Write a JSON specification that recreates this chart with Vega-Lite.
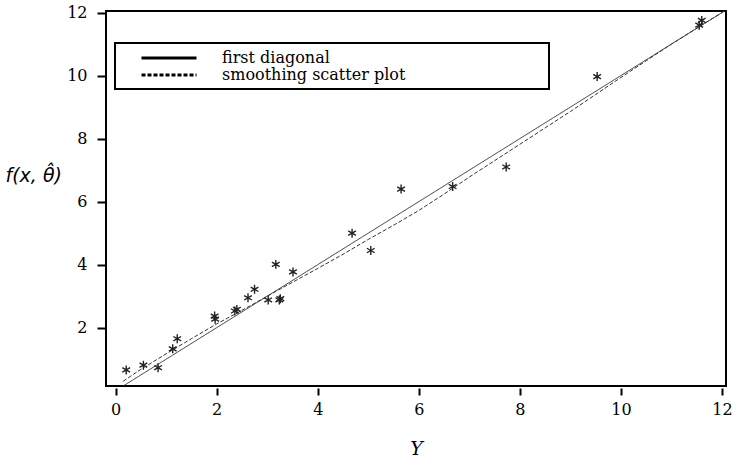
{
  "$schema": "https://vega.github.io/schema/vega-lite/v6.json",
  "width": 620,
  "height": 375,
  "autosize": "none",
  "padding": {"left": 106, "top": 11, "right": 7, "bottom": 74},
  "background": "white",
  "config": {
    "view": {"stroke": "black", "strokeWidth": 2},
    "font": "DejaVu Serif",
    "axis": {
      "labelFont": "DejaVu Serif",
      "labelFontSize": 16,
      "labelColor": "black",
      "tickColor": "black",
      "tickWidth": 2,
      "domain": false,
      "grid": false,
      "titleFont": "DejaVu Serif",
      "titleFontStyle": "italic",
      "titleFontWeight": "normal",
      "titleFontSize": 19,
      "titleColor": "black"
    }
  },
  "datasets": {
    "curves": [
      {"x": 0, "y": 0, "series": "first diagonal"},
      {"x": 12.1, "y": 12.1, "series": "first diagonal"},
      {"x": 0.15, "y": 0.3, "series": "smoothing scatter plot"},
      {"x": 0.5, "y": 0.68, "series": "smoothing scatter plot"},
      {"x": 1, "y": 1.17, "series": "smoothing scatter plot"},
      {"x": 1.5, "y": 1.65, "series": "smoothing scatter plot"},
      {"x": 2, "y": 2.12, "series": "smoothing scatter plot"},
      {"x": 2.5, "y": 2.55, "series": "smoothing scatter plot"},
      {"x": 3, "y": 3.0, "series": "smoothing scatter plot"},
      {"x": 3.5, "y": 3.44, "series": "smoothing scatter plot"},
      {"x": 4, "y": 3.88, "series": "smoothing scatter plot"},
      {"x": 4.5, "y": 4.33, "series": "smoothing scatter plot"},
      {"x": 5, "y": 4.8, "series": "smoothing scatter plot"},
      {"x": 5.5, "y": 5.25, "series": "smoothing scatter plot"},
      {"x": 6, "y": 5.72, "series": "smoothing scatter plot"},
      {"x": 6.5, "y": 6.24, "series": "smoothing scatter plot"},
      {"x": 7, "y": 6.78, "series": "smoothing scatter plot"},
      {"x": 7.5, "y": 7.3, "series": "smoothing scatter plot"},
      {"x": 8, "y": 7.82, "series": "smoothing scatter plot"},
      {"x": 8.5, "y": 8.34, "series": "smoothing scatter plot"},
      {"x": 9, "y": 8.86, "series": "smoothing scatter plot"},
      {"x": 9.5, "y": 9.4, "series": "smoothing scatter plot"},
      {"x": 10, "y": 9.94, "series": "smoothing scatter plot"},
      {"x": 10.5, "y": 10.47, "series": "smoothing scatter plot"},
      {"x": 11, "y": 11.0, "series": "smoothing scatter plot"},
      {"x": 11.6, "y": 11.6, "series": "smoothing scatter plot"},
      {"x": 12.1, "y": 12.1, "series": "smoothing scatter plot"}
    ],
    "obs": [
      {"x": 0.21, "y": 0.66}, {"x": 0.55, "y": 0.81}, {"x": 0.84, "y": 0.73},
      {"x": 1.13, "y": 1.33}, {"x": 1.22, "y": 1.65}, {"x": 1.96, "y": 2.37},
      {"x": 1.97, "y": 2.27}, {"x": 2.36, "y": 2.53}, {"x": 2.4, "y": 2.58},
      {"x": 2.62, "y": 2.95}, {"x": 2.75, "y": 3.22}, {"x": 3.02, "y": 2.88},
      {"x": 3.17, "y": 4.01}, {"x": 3.24, "y": 2.88}, {"x": 3.26, "y": 2.92},
      {"x": 3.51, "y": 3.77}, {"x": 4.68, "y": 5.0}, {"x": 5.05, "y": 4.45},
      {"x": 5.65, "y": 6.4}, {"x": 6.67, "y": 6.48}, {"x": 7.73, "y": 7.1},
      {"x": 9.53, "y": 9.97}, {"x": 11.55, "y": 11.6}, {"x": 11.6, "y": 11.75}
    ]
  },
  "encoding": {
    "x": {
      "field": "x", "type": "quantitative",
      "scale": {"domain": [-0.19, 12.08], "nice": false, "zero": false},
      "axis": {"values": [0, 2, 4, 6, 8, 10, 12], "title": "Y", "offset": 2, "tickSize": 7, "labelPadding": 6, "titlePadding": 22}
    },
    "y": {
      "field": "y", "type": "quantitative",
      "scale": {"domain": [0.15, 12.05], "nice": false, "zero": false},
      "axis": {"values": [2, 4, 6, 8, 10, 12], "title": "f(x, \u03b8\u0302)", "tickSize": 9, "labelPadding": 10,
        "titleFont": "DejaVu Sans", "titleAngle": 0, "titleAlign": "left", "titleBaseline": "middle", "titleX": -101, "titleY": 164, "titleFontSize": 19}
    }
  },
  "layer": [
    {
      "data": {"name": "curves"},
      "mark": {"type": "line", "clip": true, "color": "#333", "strokeWidth": 1},
      "encoding": {
        "detail": {"field": "series"},
        "strokeDash": {
          "field": "series", "type": "nominal",
          "scale": {"domain": ["first diagonal", "smoothing scatter plot"], "range": [[1, 0], [4, 2]]},
          "legend": {
            "title": null,
            "orient": "none",
            "legendX": 9,
            "legendY": 32,
            "padding": 6,
            "strokeColor": "black",
            "symbolType": "M-3.667,0L3.667,0",
            "symbolSize": 225,
            "symbolStrokeWidth": 3,
            "symbolStrokeColor": "black",
            "symbolOffset": 39,
            "labelOffset": 44,
            "labelFont": "DejaVu Serif",
            "labelFontSize": 16,
            "labelColor": "black",
            "labelLimit": 600,
            "rowPadding": 0,
            "labelExpr": "pad(datum.label, 49, '\\u00a0') + '\\u200b'",
            "encode": {"legend": {"update": {"strokeWidth": {"value": 2}}}}
          }
        }
      }
    },
    {
      "data": {"name": "obs"},
      "mark": {"type": "point", "shape": "M0,-1L0,1M-0.866,-0.5L0.866,0.5M-0.866,0.5L0.866,-0.5", "filled": false, "size": 80, "stroke": "#222", "strokeWidth": 1.4, "opacity": 1}
    }
  ]
}
